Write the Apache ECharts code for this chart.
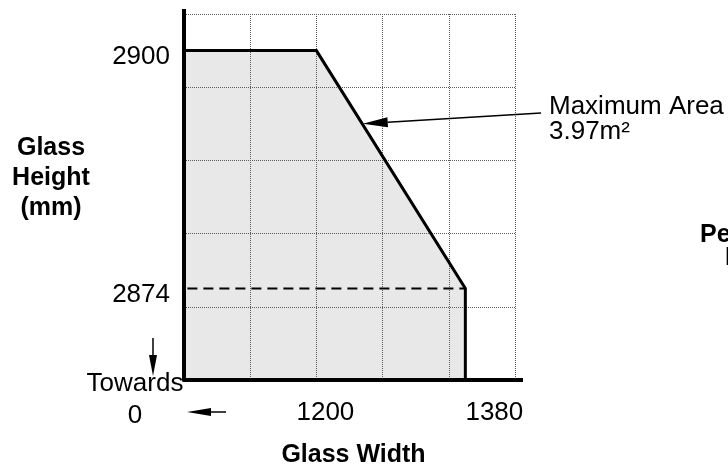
<!DOCTYPE html>
<html><head><meta charset="utf-8">
<script src="https://cdn.jsdelivr.net/npm/echarts@6/dist/echarts.min.js"></script>
<style>html,body{margin:0;padding:0;background:#fff;}#c{width:728px;height:470px;}</style>
</head><body><div id="c"></div>
<script>
// Permitted glass size envelope (mm)
const widths = [0, 1200, 1380, 1380];
const heights = [2900, 2900, 2874, 0];
// Dashed reference height line
const refWidths = [0, 1380];
const refHeights = [2874, 2874];
// Tick labels shown
const xTickLabels = [1200, 1380];
const yTickLabels = [2874, 2900];
// Annotation
const annotationText = 'Maximum Area\n3.97m\u00B2';
const annotationAnchor = [1256, 2892];
const xName = 'Glass Width';
const yName = 'Glass\nHeight\n(mm)';
const towardsText = 'Towards\n0';
const sideTextLines = ['Permissible', 'Height'];

const FONT = '"Liberation Sans", Arial, Helvetica, sans-serif';
const chart = echarts.init(document.getElementById('c'), null, {renderer: 'canvas'});

const zip = (a, b) => a.map((v, i) => [v, b[i]]);
const envelope = zip(widths, heights);
const refLine = zip(refWidths, refHeights);

const xShift = {1200: 18, 1380: 58};

chart.setOption({
  animation: false,
  backgroundColor: '#fff',
  textStyle: {fontFamily: FONT},
  grid: {left: 184, top: 14, width: 331, height: 366, containLabel: false, outerBoundsMode: 'none'},
  xAxis: {
    type: 'value', min: 1040, max: 1440, interval: 80, z: 3,
    axisLine: {show: true, onZero: false, lineStyle: {color: '#000', width: 4}},
    axisTick: {show: false},
    splitLine: {show: true, lineStyle: {color: '#5c5c5c', width: 1, type: [1, 1]}},
    axisLabel: {
      customValues: xTickLabels, margin: 20, color: '#000', fontSize: 26, fontFamily: FONT,
      formatter: v => '{s' + v + '|' + v + '}',
      rich: Object.fromEntries(xTickLabels.map(v => ['s' + v, {fontSize: 26, fontFamily: FONT, color: '#000', padding: [0, 0, 0, xShift[v] || 0]}]))
    },
    name: xName, nameLocation: 'middle', nameGap: 63,
    nameTextStyle: {color: '#000', fontSize: 25, fontWeight: 'bold', fontFamily: FONT, padding: [0, 0, 0, 8]}
  },
  yAxis: {
    type: 'value', min: 2864, max: 2904, interval: 8, z: 3,
    axisLine: {show: true, onZero: false, lineStyle: {color: '#000', width: 4}},
    axisTick: {show: false},
    splitLine: {show: true, lineStyle: {color: '#5c5c5c', width: 1, type: [1, 1]}},
    axisLabel: {
      customValues: yTickLabels, margin: 14, color: '#000', fontSize: 26, fontFamily: FONT,
      formatter: v => '{a|' + v + '}',
      rich: {a: {fontSize: 26, fontFamily: FONT, color: '#000', padding: [12, 0, 0, 0]}}
    }
  },
  series: [
    {type: 'line', data: envelope, symbol: 'none', z: 1, silent: true,
     lineStyle: {width: 0, opacity: 0}, areaStyle: {color: '#e8e8e8', opacity: 1}},
    {type: 'line', data: envelope, symbol: 'none', z: 4, silent: true,
     lineStyle: {color: '#000', width: 3, join: 'miter'}},
    {type: 'line', data: refLine, symbol: 'none', z: 4, silent: true,
     lineStyle: {color: '#000', width: 2, type: [10, 6]}}
  ]
});

// annotation arrow, anchored on the envelope via the chart scales
const tip = chart.convertToPixel({gridIndex: 0}, annotationAnchor);
const start = [541, 113];
const dx = tip[0] - start[0], dy = tip[1] - start[1];
const len = Math.sqrt(dx * dx + dy * dy);
const ux = dx / len, uy = dy / len;
const headLen = 25, headHalf = 5;
const base = [tip[0] - ux * headLen, tip[1] - uy * headLen];
const nx = -uy, ny = ux;
// axis line overrun beyond the grid (drawing style of the original)
const o = chart.convertToPixel({gridIndex: 0}, [1040, 2864]);
const e = chart.convertToPixel({gridIndex: 0}, [1440, 2904]);

chart.setOption({
  graphic: [
    {type: 'line', shape: {x1: o[0], y1: e[1] + 1, x2: o[0], y2: e[1] - 5}, style: {stroke: '#000', lineWidth: 4}, z: 10},
    {type: 'line', shape: {x1: e[0] - 1, y1: o[1], x2: e[0] + 8, y2: o[1]}, style: {stroke: '#000', lineWidth: 4}, z: 10},
    {type: 'line', shape: {x1: start[0], y1: start[1], x2: base[0], y2: base[1]}, style: {stroke: '#000', lineWidth: 1.5}, z: 10},
    {type: 'polygon', shape: {points: [tip, [base[0] + nx * headHalf, base[1] + ny * headHalf], [base[0] - nx * headHalf, base[1] - ny * headHalf]]}, style: {fill: '#000'}, z: 10},
    {type: 'text', x: 549, y: 94, z: 10, style: {text: annotationText, fontSize: 26, fontFamily: FONT, fill: '#000', lineHeight: 25, align: 'left', verticalAlign: 'top'}},
    {type: 'text', x: 51, y: 133, z: 10, style: {text: yName, fontSize: 25, fontWeight: 'bold', fontFamily: FONT, fill: '#000', lineHeight: 30, align: 'center', verticalAlign: 'top'}},
    {type: 'text', x: 135, y: 368, z: 10, style: {text: towardsText, fontSize: 26, fontFamily: FONT, fill: '#000', lineHeight: 32, align: 'center', verticalAlign: 'top'}},
    // down arrow
    {type: 'line', shape: {x1: 153, y1: 338, x2: 153, y2: 356}, style: {stroke: '#000', lineWidth: 1.5}, z: 10},
    {type: 'polygon', shape: {points: [[149, 355], [157, 355], [153, 376]]}, style: {fill: '#000'}, z: 10},
    // left arrow
    {type: 'line', shape: {x1: 226, y1: 412, x2: 210, y2: 412}, style: {stroke: '#000', lineWidth: 1.5}, z: 10},
    {type: 'polygon', shape: {points: [[211, 408], [211, 416], [187, 412]]}, style: {fill: '#000'}, z: 10},
    // side title, cut by the right edge of the picture
    {type: 'text', x: 700, y: 223, z: 10, style: {text: sideTextLines[0], fontSize: 25, fontWeight: 'bold', fontFamily: FONT, fill: '#000', align: 'left', verticalAlign: 'top'}},
    {type: 'text', x: 725, y: 246, z: 10, style: {text: sideTextLines[1], fontSize: 25, fontWeight: 'bold', fontFamily: FONT, fill: '#000', align: 'left', verticalAlign: 'top'}}
  ]
});
</script>
</body></html>
